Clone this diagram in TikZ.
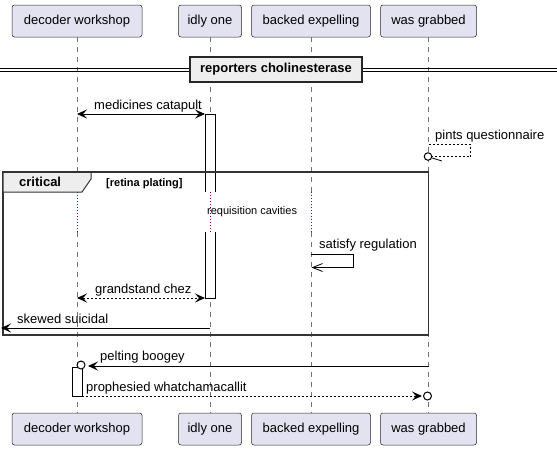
\documentclass[tikz,border=0pt]{standalone}
\usepackage{fontspec}
\setmainfont{Liberation Sans}
\usetikzlibrary{arrows.meta,calc}
\definecolor{partfill}{RGB}{226,226,240}
\definecolor{grpfill}{RGB}{238,238,238}
\definecolor{delayred}{RGB}{153,0,51}
\newcommand{\pfnt}{\fontsize{13}{15}\selectfont}
\newcommand{\sfnt}{\fontsize{11}{13}\selectfont}
\begin{document}
\begin{tikzpicture}[x=1pt,y=-1pt,
  part/.style={draw=black!85, fill=partfill, rounded corners=2.5pt, line width=0.5pt,
    minimum height=32pt, inner sep=0pt, font=\pfnt},
  life/.style={draw=black!55, line width=0.5pt, dash pattern=on 5pt off 5pt},
  delay/.style={draw=delayred, line width=0.9pt, dash pattern=on 1pt off 2pt},
  msg/.style={draw=black, line width=0.9pt},
  dsh/.style={dash pattern=on 2pt off 2pt},
  tipa/.tip={Stealth[length=10pt,width=9pt,inset=4pt]},
  opentip/.tip={Straight Barb[length=10pt,width=8pt,line width=0.8pt]},
  lbl/.style={inner sep=0pt, anchor=base west, font=\pfnt},
  actbar/.style={draw=black, fill=white, line width=0.8pt},
  endcirc/.style={draw=black, fill=white, line width=1pt}
]
\useasboundingbox (0,0) rectangle (557,450);

% participants
\node[part, minimum width=130pt] (dwT) at (77,21) {decoder workshop};
\node[part, minimum width=63pt]  (ioT) at (210,21) {idly one};
\node[part, minimum width=119pt] (beT) at (311,21) {backed expelling};
\node[part, minimum width=96pt]  (wgT) at (428.5,21) {was grabbed};
\node[part, minimum width=130pt] (dwB) at (77,429) {decoder workshop};
\node[part, minimum width=63pt]  (ioB) at (210,429) {idly one};
\node[part, minimum width=119pt] (beB) at (311,429) {backed expelling};
\node[part, minimum width=96pt]  (wgB) at (428.5,429) {was grabbed};

% lifelines with delay segment
\foreach \n/\x in {dw/77, io/210, be/311, wg/428.5}{
  \coordinate (\n D1) at (\x,192);
  \coordinate (\n D2) at (\x,232);
  \draw[life] (\n T.south) -- (\n D1);
  \draw[delay] (\n D1) -- (\n D2);
  \draw[life] (\n D2) -- (\n B.north);
}

% divider
\coordinate (divL1) at (0,68.5);  \coordinate (divR1) at (557,68.5);
\coordinate (divL2) at (0,71.5);  \coordinate (divR2) at (557,71.5);
\draw[line width=0.9pt] (divL1) -- (divR1);
\draw[line width=0.9pt] (divL2) -- (divR2);
\node[draw=black!85, line width=1.5pt, fill=grpfill, minimum width=172pt, minimum height=25pt,
  inner sep=0pt, font=\pfnt\bfseries] (divbox) at (276,69.5) {reporters cholinesterase};

% activation bar idly one (broken by delay)
\coordinate (ioA1) at (205,114);
\coordinate (ioA2) at (215,114);
\fill[white] (205,114) rectangle (215,192);
\fill[white] (205,232) rectangle (215,298);
\draw[line width=0.8pt] (205,192) -- (ioA1) -- (ioA2) -- (215,192);
\draw[line width=0.8pt] (205,232) -- (205,298) -- (215,298) -- (215,232);

% medicines catapult
\coordinate (m1a) at (77,114); \coordinate (m1b) at (205,114);
\draw[msg, tipa-tipa] (m1a) -- (m1b);
\node[lbl] (m1l) at (94,109) {medicines catapult};

% pints questionnaire
\coordinate (m2a) at (428.5,144.5); \coordinate (m2b) at (470.5,144.5);
\coordinate (m2c) at (470.5,156.5); \coordinate (m2d) at (432,156.5);
\draw[msg, line width=0.7pt, dsh] (m2a) -- (m2b) -- (m2c) -- (m2d);
\node[endcirc, circle, minimum size=7.5pt, inner sep=0pt] (m2o) at (428,156.5) {};
\coordinate (m2e) at (442,161);
\draw[line width=0.8pt] (m2o.-20) -- (m2e);
\node[lbl] (m2l) at (435,139) {pints questionnaire};

% critical frame
\coordinate (frTL) at (3,172); \coordinate (frBR) at (428.5,335);
\draw[line width=1.5pt, draw=black!80] (frTL) rectangle (frBR);
\draw[line width=1pt, draw=black!80, fill=grpfill] (3,172) -- (91,172) -- (91,179) -- (82,192) -- (3,192) -- cycle;
\draw[line width=1.5pt, draw=black!80] (frTL) -- (428.5,172);
\node[lbl, font=\pfnt\bfseries] (crit) at (19,186.5) {critical};
\node[lbl, font=\sfnt\bfseries] (guard) at (106,186.5) {[retina plating]};

% delay text
\node[inner sep=0pt, anchor=west, font=\sfnt] (dly) at (207,212) {requisition cavities};

% satisfy regulation
\coordinate (m3a) at (311,254.5); \coordinate (m3b) at (353.5,254.5);
\coordinate (m3c) at (353.5,267.5); \coordinate (m3d) at (311.5,267.5);
\draw[msg, -opentip] (m3a) -- (m3b) -- (m3c) -- (m3d);
\node[lbl] (m3l) at (319,248.5) {satisfy regulation};

% grandstand chez
\coordinate (m4a) at (77,298); \coordinate (m4b) at (205,298);
\draw[msg, dsh, tipa-tipa] (m4a) -- (m4b);
\node[lbl] (m4l) at (95,293) {grandstand chez};

% skewed suicidal
\coordinate (m5a) at (210,328); \coordinate (m5b) at (1,328);
\draw[msg, -tipa] (m5a) -- (m5b);
\node[lbl] (m5l) at (17,323) {skewed suicidal};

% activation bar decoder
\draw[actbar] (72,367) rectangle (82,396);

% pelting boogey
\coordinate (m6a) at (428.5,366); \coordinate (m6b) at (88,366);
\draw[msg, -tipa] (m6a) -- (m6b);
\node[endcirc, circle, minimum size=8pt, inner sep=0pt] (m6o) at (81,365) {};
\node[lbl] (m6l) at (100,360.5) {pelting boogey};

% prophesied whatchamacallit
\coordinate (m7a) at (82,396); \coordinate (m7b) at (422,396);
\draw[msg, dsh, -tipa] (m7a) -- (m7b);
\node[endcirc, circle, minimum size=8pt, inner sep=0pt] (m7o) at (427.5,396) {};
\node[lbl] (m7l) at (86,391) {prophesied whatchamacallit};
\end{tikzpicture}
\end{document}
